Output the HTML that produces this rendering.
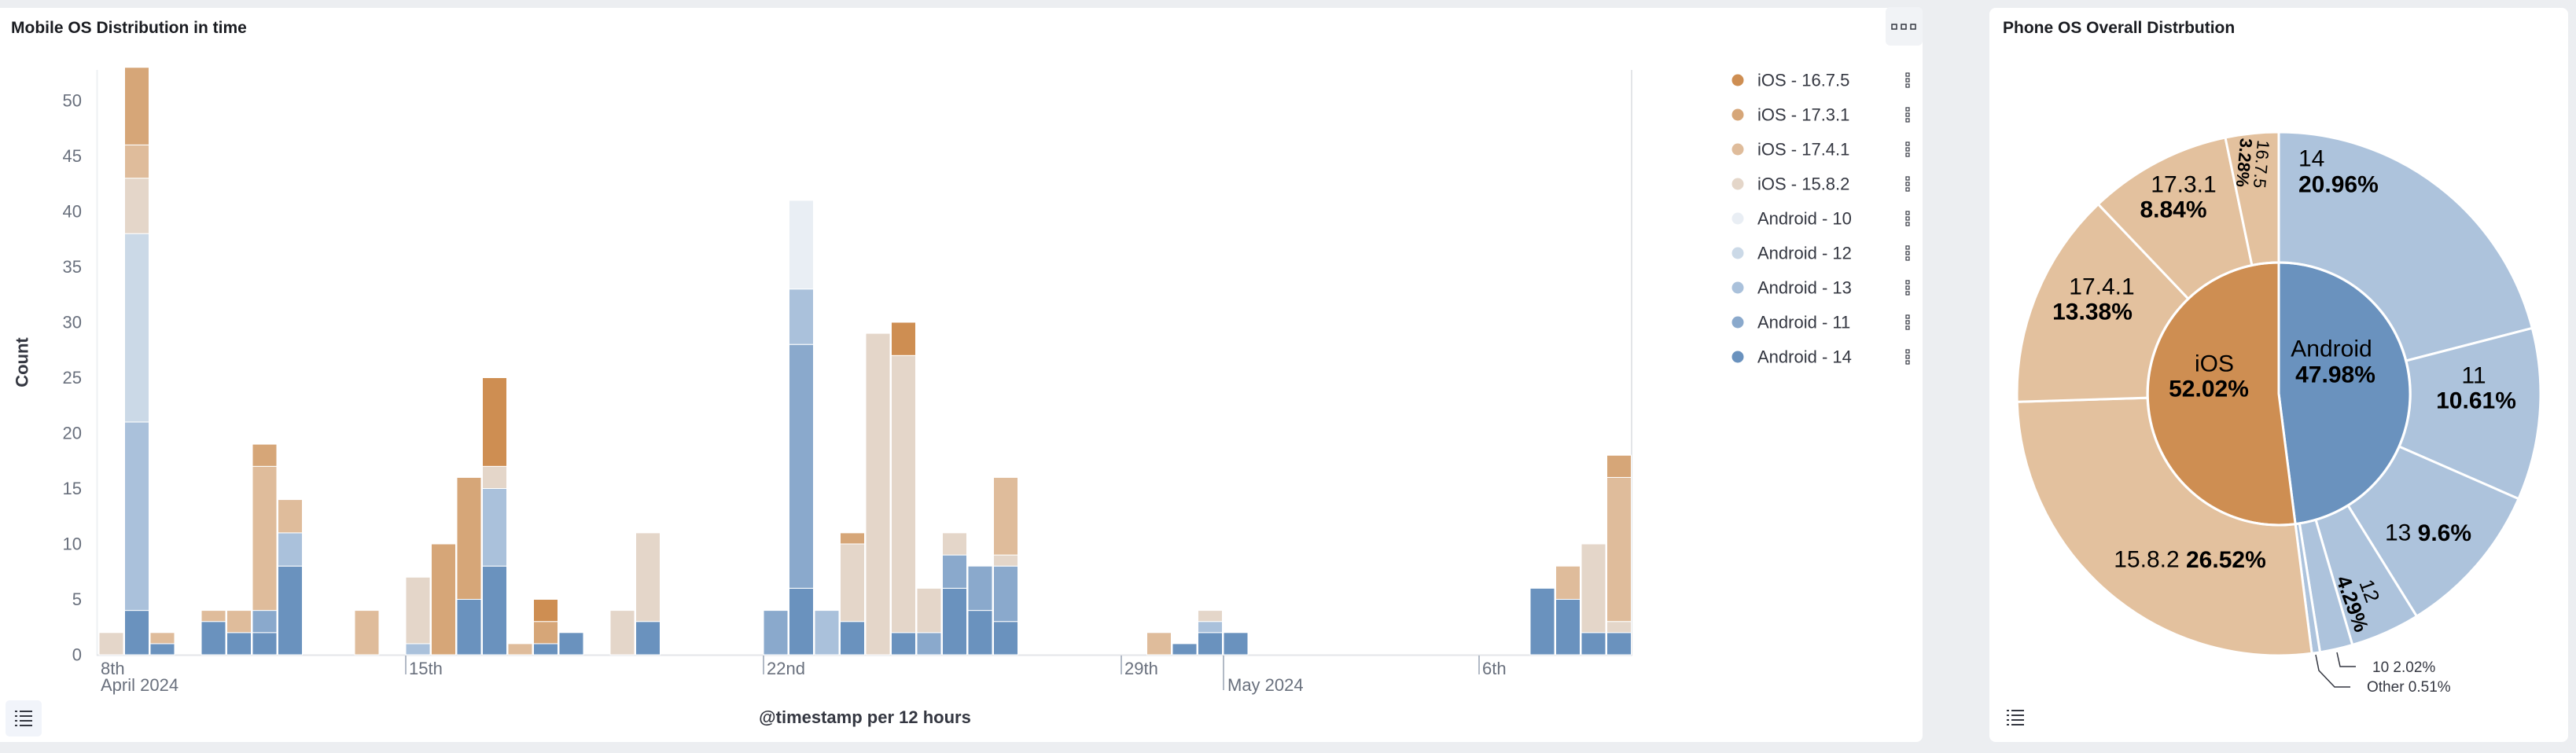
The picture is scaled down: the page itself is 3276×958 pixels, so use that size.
<!DOCTYPE html>
<html><head><meta charset="utf-8"><style>
html,body{margin:0;padding:0;background:#eceef1;}
svg{display:block;font-family:"Liberation Sans",sans-serif;}
.a{fill:#6a92be}.b{fill:#8aa9cc}.c{fill:#aac1db}.d{fill:#cbd9e7}.e{fill:#e9eef4}
.f{fill:#e4d6c9}.g{fill:#dfbc9b}.h{fill:#d6a678}.k{fill:#ce8e52}
#bars rect{stroke:#fff;stroke-width:1}
.yl{font-size:22px;fill:#69707d;text-anchor:end;dominant-baseline:central}
.xl{font-size:22px;fill:#69707d}
.lg{font-size:22px;fill:#343741;dominant-baseline:central}
.pl{font-size:30px;fill:#000;text-anchor:middle;dominant-baseline:central}
.pb{font-weight:bold}
</style></head><body>
<svg width="3276" height="958" viewBox="0 0 3276 958" xmlns="http://www.w3.org/2000/svg">
<rect x="0" y="0" width="3276" height="958" fill="#eceef1"/>
<!-- left panel -->
<rect x="-10" y="10" width="2455" height="934" rx="8" fill="#fff"/>
<text x="14" y="42" font-size="21" font-weight="bold" fill="#1a1c21">Mobile OS Distribution in time</text>
<rect x="2398" y="9" width="47" height="49" rx="6" fill="#f1f3f6"/>
<g fill="none" stroke="#343741" stroke-width="1.5"><rect x="2406" y="31" width="6" height="6"/><rect x="2418" y="31" width="6" height="6"/><rect x="2430" y="31" width="6" height="6"/></g>
<!-- axes -->
<line x1="123.5" y1="89" x2="123.5" y2="834" stroke="#eef0f3" stroke-width="2"/>
<line x1="2075" y1="89" x2="2075" y2="834" stroke="#e3e5e8" stroke-width="2"/>
<line x1="123" y1="833.5" x2="2076" y2="833.5" stroke="#e3e5e8" stroke-width="2"/>
<g>
<text class="yl" x="104" y="833">0</text><text class="yl" x="104" y="762.5">5</text><text class="yl" x="104" y="692">10</text><text class="yl" x="104" y="621.5">15</text><text class="yl" x="104" y="551">20</text><text class="yl" x="104" y="480.5">25</text><text class="yl" x="104" y="410">30</text><text class="yl" x="104" y="339.5">35</text><text class="yl" x="104" y="269">40</text><text class="yl" x="104" y="198.5">45</text><text class="yl" x="104" y="128">50</text>
</g>
<text x="28" y="461" font-size="22" font-weight="bold" fill="#343741" text-anchor="middle" dominant-baseline="central" transform="rotate(-90 28 461)">Count</text>
<g stroke="#98a2b3" stroke-width="1.5">
<line x1="516" y1="834" x2="516" y2="858"/><line x1="971" y1="834" x2="971" y2="858"/><line x1="1426" y1="834" x2="1426" y2="858"/><line x1="1556" y1="834" x2="1556" y2="878"/><line x1="1881" y1="834" x2="1881" y2="858"/>
</g>
<text class="xl" x="128" y="858">8th</text>
<text class="xl" x="128" y="879">April 2024</text>
<text class="xl" x="520" y="858">15th</text>
<text class="xl" x="975" y="858">22nd</text>
<text class="xl" x="1430" y="858">29th</text>
<text class="xl" x="1561" y="879">May 2024</text>
<text class="xl" x="1885" y="858">6th</text>
<text x="1100" y="920" font-size="22" font-weight="bold" fill="#343741" text-anchor="middle">@timestamp per 12 hours</text>
<rect x="7" y="891" width="46" height="46" rx="5" fill="#f1f4fa"/>
<g fill="#343741"><rect x="19" y="904" width="3" height="2"/><rect x="25" y="904" width="16" height="2"/><rect x="19" y="910" width="3" height="2"/><rect x="25" y="910" width="16" height="2"/><rect x="19" y="916" width="3" height="2"/><rect x="25" y="916" width="16" height="2"/><rect x="19" y="922" width="3" height="2"/><rect x="25" y="922" width="16" height="2"/></g>
<!-- bars -->
<g id="bars">
<rect class="f" x="126" y="804.8" width="31" height="28.2"/>
<rect class="a" x="158.5" y="776.6" width="31" height="56.4"/><rect class="c" x="158.5" y="536.9" width="31" height="239.7"/><rect class="d" x="158.5" y="297.2" width="31" height="239.7"/><rect class="f" x="158.5" y="226.7" width="31" height="70.5"/><rect class="g" x="158.5" y="184.4" width="31" height="42.3"/><rect class="h" x="158.5" y="85.7" width="31" height="98.7"/>
<rect class="a" x="191" y="818.9" width="31" height="14.1"/><rect class="g" x="191" y="804.8" width="31" height="14.1"/>
<rect class="a" x="256" y="790.7" width="31" height="42.3"/><rect class="g" x="256" y="776.6" width="31" height="14.1"/>
<rect class="a" x="288.5" y="804.8" width="31" height="28.2"/><rect class="g" x="288.5" y="776.6" width="31" height="28.2"/>
<rect class="a" x="321" y="804.8" width="31" height="28.2"/><rect class="b" x="321" y="776.6" width="31" height="28.2"/><rect class="g" x="321" y="593.3" width="31" height="183.3"/><rect class="h" x="321" y="565.1" width="31" height="28.2"/>
<rect class="a" x="353.5" y="720.2" width="31" height="112.8"/><rect class="c" x="353.5" y="677.9" width="31" height="42.3"/><rect class="g" x="353.5" y="635.6" width="31" height="42.3"/>
<rect class="g" x="451" y="776.6" width="31" height="56.4"/>
<rect class="c" x="516" y="818.9" width="31" height="14.1"/><rect class="f" x="516" y="734.3" width="31" height="84.6"/>
<rect class="h" x="548.5" y="692" width="31" height="141"/>
<rect class="a" x="581" y="762.5" width="31" height="70.5"/><rect class="h" x="581" y="607.4" width="31" height="155.1"/>
<rect class="a" x="613.5" y="720.2" width="31" height="112.8"/><rect class="c" x="613.5" y="621.5" width="31" height="98.7"/><rect class="f" x="613.5" y="593.3" width="31" height="28.2"/><rect class="k" x="613.5" y="480.5" width="31" height="112.8"/>
<rect class="g" x="646" y="818.9" width="31" height="14.1"/>
<rect class="a" x="678.5" y="818.9" width="31" height="14.1"/><rect class="h" x="678.5" y="790.7" width="31" height="28.2"/><rect class="k" x="678.5" y="762.5" width="31" height="28.2"/>
<rect class="a" x="711" y="804.8" width="31" height="28.2"/>
<rect class="f" x="776" y="776.6" width="31" height="56.4"/>
<rect class="a" x="808.5" y="790.7" width="31" height="42.3"/><rect class="f" x="808.5" y="677.9" width="31" height="112.8"/>
<rect class="b" x="971" y="776.6" width="31" height="56.4"/>
<rect class="a" x="1003.5" y="748.4" width="31" height="84.6"/><rect class="b" x="1003.5" y="438.2" width="31" height="310.2"/><rect class="c" x="1003.5" y="367.7" width="31" height="70.5"/><rect class="e" x="1003.5" y="254.9" width="31" height="112.8"/>
<rect class="c" x="1036" y="776.6" width="31" height="56.4"/>
<rect class="a" x="1068.5" y="790.7" width="31" height="42.3"/><rect class="f" x="1068.5" y="692" width="31" height="98.7"/><rect class="h" x="1068.5" y="677.9" width="31" height="14.1"/>
<rect class="f" x="1101" y="424.1" width="31" height="408.9"/>
<rect class="a" x="1133.5" y="804.8" width="31" height="28.2"/><rect class="f" x="1133.5" y="452.3" width="31" height="352.5"/><rect class="k" x="1133.5" y="410" width="31" height="42.3"/>
<rect class="b" x="1166" y="804.8" width="31" height="28.2"/><rect class="f" x="1166" y="748.4" width="31" height="56.4"/>
<rect class="a" x="1198.5" y="748.4" width="31" height="84.6"/><rect class="b" x="1198.5" y="706.1" width="31" height="42.3"/><rect class="f" x="1198.5" y="677.9" width="31" height="28.2"/>
<rect class="a" x="1231" y="776.6" width="31" height="56.4"/><rect class="b" x="1231" y="720.2" width="31" height="56.4"/>
<rect class="a" x="1263.5" y="790.7" width="31" height="42.3"/><rect class="b" x="1263.5" y="720.2" width="31" height="70.5"/><rect class="f" x="1263.5" y="706.1" width="31" height="14.1"/><rect class="g" x="1263.5" y="607.4" width="31" height="98.7"/>
<rect class="g" x="1458.5" y="804.8" width="31" height="28.2"/>
<rect class="a" x="1491" y="818.9" width="31" height="14.1"/>
<rect class="a" x="1523.5" y="804.8" width="31" height="28.2"/><rect class="c" x="1523.5" y="790.7" width="31" height="14.1"/><rect class="f" x="1523.5" y="776.6" width="31" height="14.1"/>
<rect class="a" x="1556" y="804.8" width="31" height="28.2"/>
<rect class="a" x="1946" y="748.4" width="31" height="84.6"/>
<rect class="a" x="1978.5" y="762.5" width="31" height="70.5"/><rect class="g" x="1978.5" y="720.2" width="31" height="42.3"/>
<rect class="a" x="2011" y="804.8" width="31" height="28.2"/><rect class="f" x="2011" y="692" width="31" height="112.8"/>
<rect class="a" x="2043.5" y="804.8" width="31" height="28.2"/><rect class="f" x="2043.5" y="790.7" width="31" height="14.1"/><rect class="g" x="2043.5" y="607.4" width="31" height="183.3"/><rect class="h" x="2043.5" y="579.2" width="31" height="28.2"/>
</g>
<!-- legend -->
<g>
<circle class="k" cx="2210" cy="102" r="7.5"/><text class="lg" x="2235" y="102">iOS - 16.7.5</text>
<circle class="h" cx="2210" cy="146" r="7.5"/><text class="lg" x="2235" y="146">iOS - 17.3.1</text>
<circle class="g" cx="2210" cy="190" r="7.5"/><text class="lg" x="2235" y="190">iOS - 17.4.1</text>
<circle class="f" cx="2210" cy="234" r="7.5"/><text class="lg" x="2235" y="234">iOS - 15.8.2</text>
<circle class="e" cx="2210" cy="278" r="7.5"/><text class="lg" x="2235" y="278">Android - 10</text>
<circle class="d" cx="2210" cy="322" r="7.5"/><text class="lg" x="2235" y="322">Android - 12</text>
<circle class="c" cx="2210" cy="366" r="7.5"/><text class="lg" x="2235" y="366">Android - 13</text>
<circle class="b" cx="2210" cy="410" r="7.5"/><text class="lg" x="2235" y="410">Android - 11</text>
<circle class="a" cx="2210" cy="454" r="7.5"/><text class="lg" x="2235" y="454">Android - 14</text>
</g>
<g fill="none" stroke="#343741" stroke-width="1.2">
<rect x="2424" y="93" width="4" height="4"/><rect x="2424" y="100" width="4" height="4"/><rect x="2424" y="107" width="4" height="4"/>
<rect x="2424" y="137" width="4" height="4"/><rect x="2424" y="144" width="4" height="4"/><rect x="2424" y="151" width="4" height="4"/>
<rect x="2424" y="181" width="4" height="4"/><rect x="2424" y="188" width="4" height="4"/><rect x="2424" y="195" width="4" height="4"/>
<rect x="2424" y="225" width="4" height="4"/><rect x="2424" y="232" width="4" height="4"/><rect x="2424" y="239" width="4" height="4"/>
<rect x="2424" y="269" width="4" height="4"/><rect x="2424" y="276" width="4" height="4"/><rect x="2424" y="283" width="4" height="4"/>
<rect x="2424" y="313" width="4" height="4"/><rect x="2424" y="320" width="4" height="4"/><rect x="2424" y="327" width="4" height="4"/>
<rect x="2424" y="357" width="4" height="4"/><rect x="2424" y="364" width="4" height="4"/><rect x="2424" y="371" width="4" height="4"/>
<rect x="2424" y="401" width="4" height="4"/><rect x="2424" y="408" width="4" height="4"/><rect x="2424" y="415" width="4" height="4"/>
<rect x="2424" y="445" width="4" height="4"/><rect x="2424" y="452" width="4" height="4"/><rect x="2424" y="459" width="4" height="4"/>
</g>
<!-- right panel -->
<rect x="2530" y="10" width="736" height="934" rx="8" fill="#fff"/>
<text x="2547" y="42" font-size="21" font-weight="bold" fill="#1a1c21">Phone OS Overall Distrbution</text>
<g stroke="#fff" stroke-width="3" stroke-linejoin="round">
<path fill="#adc3dc" d="M2898 501 L2898 168 A333 333 0 0 1 3220.3 417.4 Z"/>
<path fill="#adc3dc" d="M2898 501 L3220.3 417.4 A333 333 0 0 1 3203.0 634.6 Z"/>
<path fill="#adc3dc" d="M2898 501 L3203.0 634.6 A333 333 0 0 1 3073.4 784.1 Z"/>
<path fill="#adc3dc" d="M2898 501 L3073.4 784.1 A333 333 0 0 1 2991.7 820.5 Z"/>
<path fill="#adc3dc" d="M2898 501 L2991.7 820.5 A333 333 0 0 1 2950.5 829.8 Z"/>
<path fill="#adc3dc" d="M2898 501 L2950.5 829.8 A333 333 0 0 1 2940.1 831.3 Z"/>
<path fill="#e3c19e" d="M2898 501 L2940.1 831.3 A333 333 0 0 1 2565.2 511.3 Z"/>
<path fill="#e3c19e" d="M2898 501 L2565.2 511.3 A333 333 0 0 1 2668.4 259.8 Z"/>
<path fill="#e3c19e" d="M2898 501 L2668.4 259.8 A333 333 0 0 1 2830.0 175.0 Z"/>
<path fill="#e3c19e" d="M2898 501 L2830.0 175.0 A333 333 0 0 1 2898 168 Z"/>
<path fill="#6a92be" d="M2898 501 L2898 334 A167 167 0 0 1 2919.1 666.7 Z"/>
<path fill="#ce8e52" d="M2898 501 L2919.1 666.7 A167 167 0 1 1 2898 334 Z"/>
</g>
<circle cx="2898" cy="501" r="167" fill="none" stroke="#fff" stroke-width="3"/>
<text class="pl" x="2923" y="202" text-anchor="start" style="text-anchor:start">14</text>
<text class="pl pb" x="2923" y="235" style="text-anchor:start">20.96%</text>
<text class="pl" x="3146" y="478">11</text>
<text class="pl pb" x="3149" y="510">10.61%</text>
<text class="pl" x="2965" y="444">Android</text>
<text class="pl pb" x="2970" y="477">47.98%</text>
<text class="pl" x="2816" y="463">iOS</text>
<text class="pl pb" x="2809" y="495">52.02%</text>
<text class="pl" x="2777" y="235">17.3.1</text>
<text class="pl pb" x="2764" y="267">8.84%</text>
<text class="pl" x="2673" y="365">17.4.1</text>
<text class="pl pb" x="2661" y="397">13.38%</text>
<text class="pl" x="2785" y="712">15.8.2 <tspan font-weight="bold">26.52%</tspan></text>
<text class="pl" x="3088" y="678">13 <tspan font-weight="bold">9.6%</tspan></text>
<g transform="translate(2866 208) rotate(95)"><text x="0" y="-10" font-size="22" text-anchor="middle" dominant-baseline="central">16.7.5</text><text x="0" y="12" font-size="22" font-weight="bold" text-anchor="middle" dominant-baseline="central">3.28%</text></g>
<g transform="translate(3003 764) rotate(70)"><text x="-8" y="-14" font-size="26" text-anchor="middle" dominant-baseline="central">12</text><text x="0" y="12" font-size="26" font-weight="bold" text-anchor="middle" dominant-baseline="central">4.29%</text></g>
<g fill="none" stroke="#343741" stroke-width="1.5">
<polyline points="2972,830 2976,848 2996,848"/>
<polyline points="2945,833 2949,853 2969,874 2989,874"/>
</g>
<text x="3017" y="855" font-size="19" fill="#343741">10  2.02%</text>
<text x="3010" y="880" font-size="19" fill="#343741">Other  0.51%</text>
<g fill="#343741"><rect x="2552" y="903" width="3" height="2"/><rect x="2558" y="903" width="16" height="2"/><rect x="2552" y="909" width="3" height="2"/><rect x="2558" y="909" width="16" height="2"/><rect x="2552" y="915" width="3" height="2"/><rect x="2558" y="915" width="16" height="2"/><rect x="2552" y="921" width="3" height="2"/><rect x="2558" y="921" width="16" height="2"/></g>
</svg>
</body></html>
